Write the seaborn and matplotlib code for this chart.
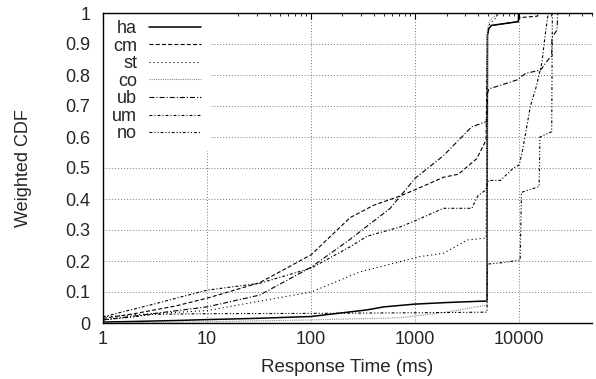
import matplotlib
matplotlib.use("Agg")
import matplotlib.pyplot as plt
import numpy as np
import pandas as pd
import seaborn as sns
from matplotlib.ticker import FixedLocator, LogLocator, NullFormatter

# ---- data: response time (ms) vs weighted CDF for each service ----
series_names = ["ha", "cm", "st", "co", "ub", "um", "no"]

ha_t = [1, 2, 5, 10, 30, 100, 340, 500, 1000, 2000, 4900, 4950, 5100, 5400, 9800, 9850, 50000]
ha_v = [0.003, 0.005, 0.008, 0.011, 0.015, 0.021, 0.042, 0.052, 0.061, 0.066, 0.071, 0.93, 0.95, 0.96, 0.972, 1.0, 1.0]

cm_t = [1, 2, 5, 10, 32, 100, 237, 400, 720, 1000, 1870, 2600, 3900, 4800, 4950, 5100, 5400, 9600, 10100, 15000, 15200, 50000]
cm_v = [0.015, 0.03, 0.055, 0.08, 0.13, 0.22, 0.34, 0.38, 0.41, 0.43, 0.47, 0.48, 0.53, 0.59, 0.93, 0.95, 0.96, 0.972, 0.985, 0.99, 1.0, 1.0]

st_t = [1, 3, 10, 26, 100, 295, 720, 1100, 1870, 3200, 4800, 4950, 5200, 6000, 6300, 50000]
st_v = [0.02, 0.03, 0.04, 0.065, 0.10, 0.165, 0.198, 0.214, 0.225, 0.268, 0.274, 0.94, 0.965, 0.985, 1.0, 1.0]

co_t = [1, 10, 100, 720, 2000, 4900, 4950, 5200, 5600, 6300, 6500, 50000]
co_v = [0.0, 0.004, 0.01, 0.017, 0.035, 0.058, 0.95, 0.975, 0.985, 0.997, 1.0, 1.0]

ub_t = [1, 3, 10, 32, 100, 237, 575, 1000, 1870, 3500, 4900, 4950, 5100, 9500, 11500, 16000, 19500, 20500, 20600, 23000, 23500, 50000]
ub_v = [0.01, 0.03, 0.052, 0.09, 0.18, 0.27, 0.37, 0.467, 0.54, 0.633, 0.65, 0.74, 0.755, 0.784, 0.805, 0.816, 0.855, 0.86, 0.92, 0.945, 1.0, 1.0]

um_t = [1, 3, 10, 32, 100, 237, 345, 720, 1000, 1870, 2170, 3500, 4000, 4800, 4950, 5100, 6600, 8800, 10000, 10800, 12800, 14500, 16500, 18000, 19000, 50000]
um_v = [0.02, 0.06, 0.106, 0.128, 0.177, 0.246, 0.28, 0.31, 0.33, 0.37, 0.37, 0.37, 0.41, 0.43, 0.455, 0.46, 0.46, 0.50, 0.51, 0.56, 0.70, 0.76, 0.84, 0.945, 1.0, 1.0]

no_t = [1, 2, 3, 10, 100, 1000, 4900, 4950, 7000, 10200, 10500, 11000, 15500, 15800, 20500, 20800, 50000]
no_v = [0.01, 0.02, 0.028, 0.03, 0.031, 0.033, 0.035, 0.19, 0.195, 0.203, 0.42, 0.424, 0.44, 0.60, 0.617, 1.0, 1.0]

x_ticks = [1, 10, 100, 1000, 10000]
x_tick_labels = ["1", "10", "100", "1000", "10000"]
y_ticks = [0.0, 0.1, 0.2, 0.3, 0.4, 0.5, 0.6, 0.7, 0.8, 0.9, 1.0]
y_tick_labels = ["0", "0.1", "0.2", "0.3", "0.4", "0.5", "0.6", "0.7", "0.8", "0.9", "1"]

curves = {
    "ha": (ha_t, ha_v), "cm": (cm_t, cm_v), "st": (st_t, st_v), "co": (co_t, co_v),
    "ub": (ub_t, ub_v), "um": (um_t, um_v), "no": (no_t, no_v),
}
frames = []
for name in series_names:
    t, v = curves[name]
    frames.append(pd.DataFrame({"time": t, "cdf": v, "series": name}))
df = pd.concat(frames, ignore_index=True)

# ---- style ----
sns.set_style("white")
plt.rcParams["font.family"] = ["Liberation Sans", "DejaVu Sans"]
FS = 13

palette = {"ha": "black", "cm": "black", "st": "black", "co": "#8a8a8a",
           "ub": "black", "um": "black", "no": "black"}
dashes = {
    "ha": "",
    "cm": (3.6, 2.0),
    "st": (1.0, 2.6),
    "co": (1.0, 1.0),
    "ub": (4.5, 1.8, 1.0, 1.8),
    "um": (2.6, 1.8, 1.0, 1.8),
    "no": (2.6, 1.8, 1.0, 1.8, 1.0, 1.8),
}

fig = plt.figure(figsize=(5.96, 3.79), dpi=100)
ax = fig.add_axes([103 / 596, 1 - 323 / 379, (592 - 103) / 596, 310 / 379])
ax.set_xscale("log")

sns.lineplot(data=df, x="time", y="cdf", hue="series", style="series",
             hue_order=series_names, style_order=series_names,
             palette=palette, dashes=dashes, estimator=None, sort=False,
             linewidth=0.8, ax=ax)
ax.lines[0].set_linewidth(1.1)

ax.set_xlim(1, 50000)
ax.set_ylim(0, 1)

ax.xaxis.set_major_locator(FixedLocator(x_ticks))
ax.set_xticklabels(x_tick_labels)
ax.xaxis.set_minor_locator(LogLocator(base=10, subs=np.arange(2, 10)))
ax.xaxis.set_minor_formatter(NullFormatter())
ax.yaxis.set_major_locator(FixedLocator(y_ticks))
ax.set_yticklabels(y_tick_labels)

ax.grid(True, which="major", color="#777777", linestyle=(0, (1, 2)), linewidth=0.7)
ax.tick_params(axis="both", which="major", direction="in", length=4.5, width=0.8,
               labelsize=FS, top=True, right=False, color="black")
ax.tick_params(axis="x", which="minor", direction="in", length=2.5, width=0.7, top=True)
ax.tick_params(axis="x", which="major", pad=6)
ax.tick_params(axis="y", which="major", pad=9)

for side in ["left", "bottom", "top"]:
    ax.spines[side].set_color("black")
    ax.spines[side].set_linewidth(1.0)
ax.spines["right"].set_visible(False)

ax.set_xlabel("Response Time (ms)", fontsize=13.5, labelpad=8)
ax.set_ylabel("Weighted CDF", fontsize=FS, labelpad=24)

handles, labels = ax.get_legend_handles_labels()
handles[0].set_linewidth(1.1)
leg = ax.legend(handles, labels, loc="upper left", bbox_to_anchor=(0, 1.006),
                borderaxespad=0.0, markerfirst=False, frameon=True,
                fancybox=False, framealpha=1.0, facecolor="white", edgecolor="white",
                fontsize=FS, handlelength=2.9, handletextpad=0.65,
                labelspacing=0.03, borderpad=0.5)
leg.get_frame().set_linewidth(0)
leg.set_zorder(2.2)

fig.savefig("out.png", dpi=100)
